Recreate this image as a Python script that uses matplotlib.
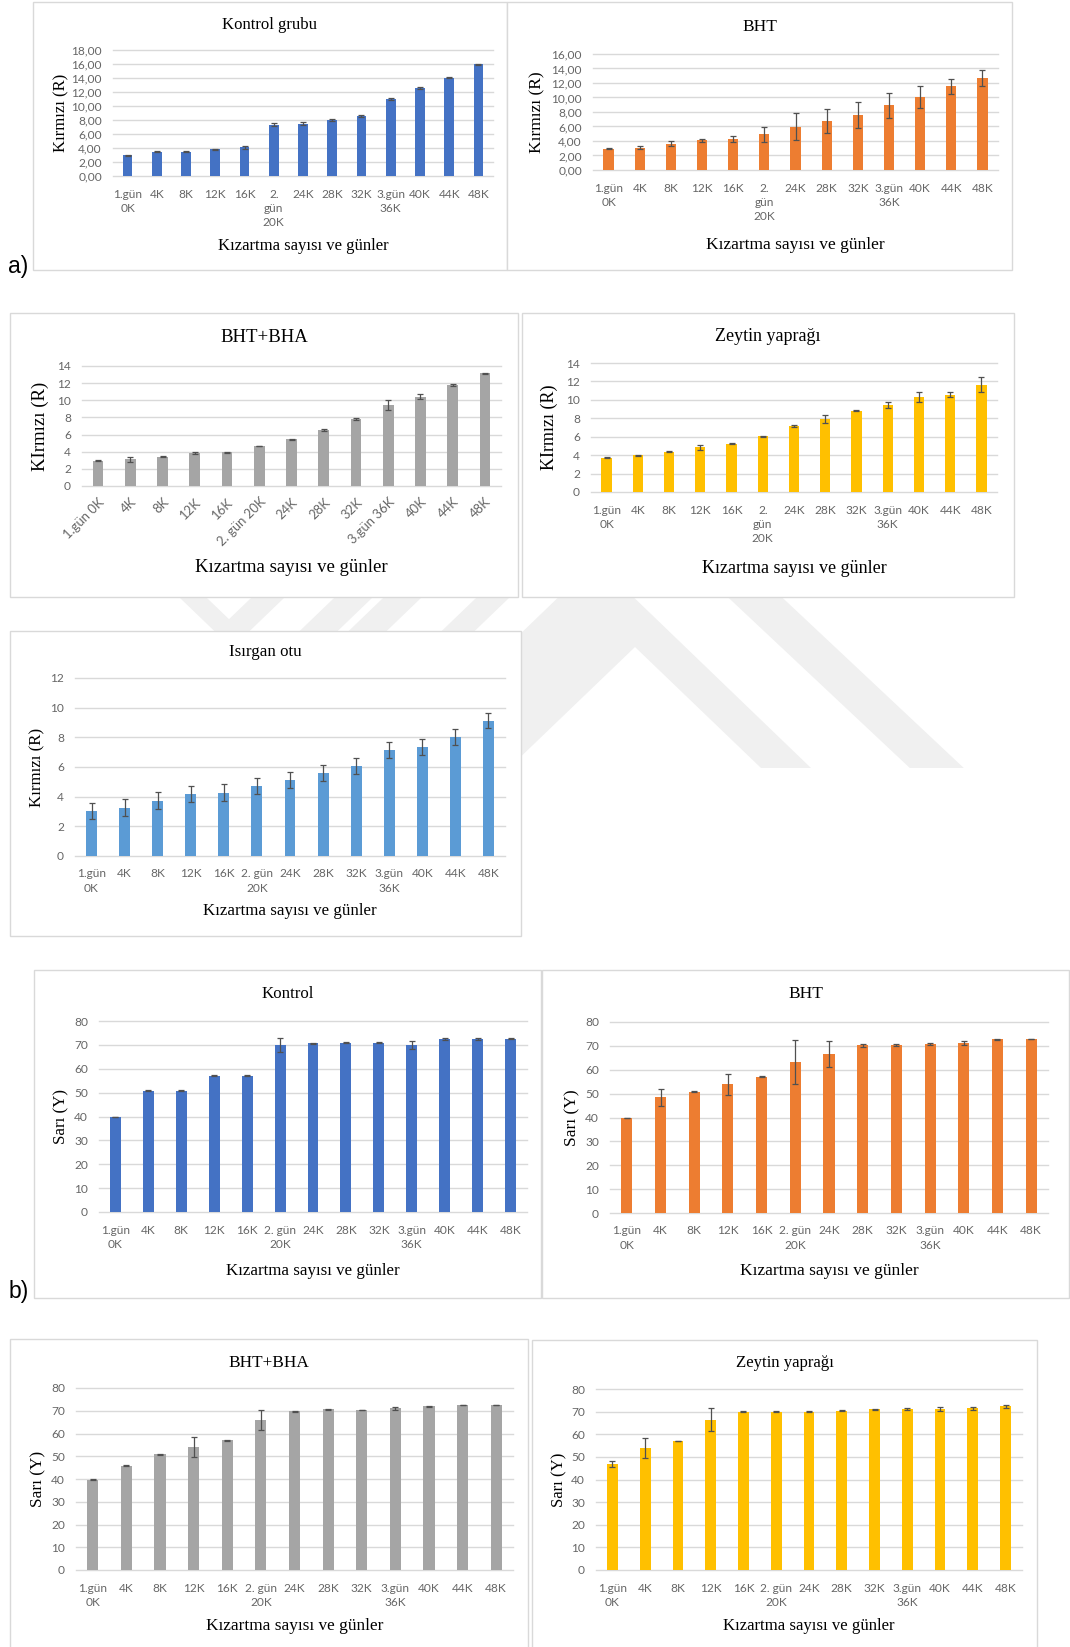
import numpy as np
import matplotlib
matplotlib.use('Agg')
import matplotlib.pyplot as plt
from matplotlib.patches import Rectangle, Polygon
from matplotlib.ticker import FuncFormatter

''' Canvas size in pixels (dpi 100) '''
W, H = 1070, 1647

''' Fonts '''
serifFont = 'Liberation Serif'
tickFont = 'Lato'
tickSize = 8.6

''' Colours '''
cBlue = '#4472C4'
cOrange = '#ED7D31'
cGray = '#A5A5A5'
cYellow = '#FFC000'
cLightBlue = '#5B9BD5'
gridColor = '#D9D9D9'
tickColor = '#666666'
errColor = '#505050'
markColor = '#F0F0F0'

''' Category labels '''
labelsWrap = ['1.gün\n0K', '4K', '8K', '12K', '16K', '2.\ngün\n20K', '24K', '28K', '32K',
              '3.gün\n36K', '40K', '44K', '48K']
labelsWide = ['1.gün\n0K', '4K', '8K', '12K', '16K', '2. gün\n20K', '24K', '28K', '32K',
              '3.gün\n36K', '40K', '44K', '48K']
labelsFlat = ['1.gün 0K', '4K', '8K', '12K', '16K', '2. gün 20K', '24K', '28K', '32K',
              '3.gün 36K', '40K', '44K', '48K']

''' Red value (R) '''
kontrolR = [2.95, 3.50, 3.50, 3.80, 4.10, 7.35, 7.50, 8.00, 8.55, 11.00, 12.60, 14.05, 15.95]
kontrolRErr = [0.10, 0.12, 0.10, 0.05, 0.20, 0.20, 0.20, 0.10, 0.10, 0.10, 0.15, 0.08, 0.05]

bhtR = [2.95, 3.10, 3.60, 4.07, 4.30, 4.90, 5.95, 6.77, 7.60, 8.90, 10.06, 11.57, 12.66]
bhtRErr = [0.03, 0.15, 0.35, 0.20, 0.40, 0.98, 1.85, 1.65, 1.75, 1.70, 1.46, 1.03, 1.10]

bhtBhaR = [2.95, 3.10, 3.42, 3.81, 3.93, 4.67, 5.45, 6.53, 7.82, 9.45, 10.42, 11.82, 13.15]
bhtBhaRErr = [0.03, 0.25, 0.03, 0.10, 0.03, 0.03, 0.03, 0.15, 0.10, 0.60, 0.27, 0.10, 0.05]

zeytinR = [3.73, 3.98, 4.38, 4.85, 5.25, 6.04, 7.13, 7.92, 8.83, 9.44, 10.31, 10.56, 11.65]
zeytinRErr = [0.08, 0.03, 0.05, 0.30, 0.03, 0.02, 0.10, 0.45, 0.08, 0.35, 0.50, 0.30, 0.80]

isirganR = [3.03, 3.25, 3.72, 4.17, 4.26, 4.73, 5.14, 5.59, 6.06, 7.16, 7.33, 8.03, 9.13]
isirganRErr = [0.54, 0.56, 0.57, 0.52, 0.57, 0.52, 0.53, 0.56, 0.56, 0.55, 0.54, 0.54, 0.52]

''' Yellow value (Y) '''
kontrolY = [39.8, 50.8, 50.8, 57.0, 57.0, 69.8, 70.65, 70.8, 70.8, 70.1, 72.45, 72.45, 72.6]
kontrolYErr = [0.2, 0.2, 0.2, 0.2, 0.2, 2.9, 0.2, 0.2, 0.2, 1.7, 0.3, 0.3, 0.2]

bhtY = [39.8, 48.45, 50.8, 53.9, 57.1, 63.4, 66.45, 70.2, 70.4, 70.8, 71.35, 72.7, 72.9]
bhtYErr = [0.1, 3.6, 0.1, 4.3, 0.3, 9.2, 5.4, 0.5, 0.5, 0.5, 0.8, 0.2, 0.1]

bhtBhaY = [39.7, 45.9, 50.8, 53.9, 57.0, 65.8, 69.7, 70.6, 70.3, 71.05, 71.9, 72.5, 72.5]
bhtBhaYErr = [0.1, 0.1, 0.1, 4.4, 0.1, 4.4, 0.1, 0.3, 0.1, 0.7, 0.4, 0.1, 0.1]

zeytinY = [46.85, 53.8, 57.0, 66.45, 70.0, 70.0, 70.0, 70.4, 71.0, 71.2, 71.3, 71.45, 72.3]
zeytinYErr = [1.5, 4.4, 0.1, 5.0, 0.1, 0.1, 0.1, 0.2, 0.3, 0.5, 0.9, 0.7, 0.8]

xTitle = 'Kızartma sayısı ve günler'


def px2fig(x, y):
    return x / W, 1 - y / H


def addBand(fig, pts):
    poly = Polygon([px2fig(x, y) for x, y in pts], closed=True, transform=fig.transFigure,
                   facecolor=markColor, edgecolor='none', zorder=-3)
    fig.add_artist(poly)


def slantBand(fig, xTop0, xTop1, yTop, yBot, slope):
    # slope = dx per dy (positive leans right going down)
    d = yBot - yTop
    addBand(fig, [(xTop0, yTop), (xTop1, yTop), (xTop1 + slope * d, yBot), (xTop0 + slope * d, yBot)])


def addPanel(fig, frame, plot, values, errors, color, labels, ymax, ystep, title, ylabel,
             titleY, xlabelY, ylabelX, fontSize, decimals=False, rotate=False, ypad=8):
    x0, y0, x1, y1 = frame
    fig.add_artist(Rectangle(px2fig(x0, y1), (x1 - x0) / W, (y1 - y0) / H, transform=fig.transFigure,
                             facecolor='white', edgecolor=gridColor, lw=1.0, zorder=-1))

    l, t, r, b = plot
    ax = fig.add_axes([l / W, 1 - b / H, (r - l) / W, (b - t) / H])
    ax.set_facecolor('none')
    xs = np.arange(len(values))
    ax.bar(xs, values, width=0.33, color=color, zorder=2)
    ax.errorbar(xs, values, yerr=errors, fmt='none', ecolor=errColor, elinewidth=0.9,
                capsize=2.4, capthick=0.9, zorder=3)

    ax.set_xlim(-0.5, len(values) - 0.5)
    ax.set_ylim(0, ymax)
    ax.set_yticks(np.arange(0, ymax + ystep / 2, ystep))
    if decimals:
        ax.yaxis.set_major_formatter(FuncFormatter(lambda v, p: f'{v:.2f}'.replace('.', ',')))
    else:
        ax.yaxis.set_major_formatter(FuncFormatter(lambda v, p: f'{v:.0f}'))
    ax.grid(axis='y', color=gridColor, lw=1.0)
    ax.set_axisbelow(True)
    for line in ax.get_ygridlines():
        line.set_clip_on(False)
    for s in ax.spines.values():
        s.set_visible(False)

    ax.set_xticks(xs)
    if rotate:
        ax.set_xticklabels(labels, rotation=45, ha='right', rotation_mode='anchor')
        ax.tick_params(axis='x', pad=7)
    else:
        ax.set_xticklabels(labels, linespacing=1.35)
        ax.tick_params(axis='x', pad=9)
    ax.tick_params(axis='both', length=0, colors=tickColor, labelsize=tickSize)
    ax.tick_params(axis='y', pad=ypad)
    for lab in ax.get_yticklabels():
        lab.set_family(tickFont)
    for lab in ax.get_xticklabels():
        lab.set_family(tickFont)
        if rotate:
            lab.set_fontsize(tickSize + 0.8)

    fig.text((x0 + x1) / 2 / W, 1 - titleY / H, title, ha='center', va='baseline',
             family=serifFont, size=fontSize, color='black')
    fig.text((l + r) / 2 / W, 1 - xlabelY / H, xTitle, ha='center', va='baseline',
             family=serifFont, size=fontSize, color='black')
    fig.text(ylabelX / W, 1 - (t + b) / 2 / H, ylabel, ha='center', va='center', rotation=90,
             family=serifFont, size=fontSize, color='black')
    return ax


fig = plt.figure(figsize=(W / 100, H / 100), dpi=100)
fig.patch.set_facecolor('white')

''' Background emblem '''
addBand(fig, [(596, 561), (811, 768), (761, 768), (635, 647), (509, 768), (381, 768)])
slantBand(fig, 667, 721, 540, 768, 1.065)
for a, b in [(251, 284), (334, 372), (383, 421), (476, 509)]:
    slantBand(fig, a, b, 598, 700, -1.04)
slantBand(fig, 180, 207, 598, 640, 1.04)

''' a) red value panels '''
addPanel(fig, (33, 2, 507, 270), (113, 50, 493, 176), kontrolR, kontrolRErr, cBlue, labelsWrap,
         18, 2, 'Kontrol grubu', 'Kırmızı (R)', 29, 250, 61, 12.0, decimals=True)
addPanel(fig, (507, 2, 1012, 270), (593, 54, 998, 170), bhtR, bhtRErr, cOrange, labelsWrap,
         16, 2, 'BHT', 'Kırmızı (R)', 31, 249, 537, 12.5, decimals=True)
addPanel(fig, (10, 313, 518, 597), (82, 366, 501, 486), bhtBhaR, bhtBhaRErr, cGray, labelsFlat,
         14, 2, 'BHT+BHA', 'KIrmızı (R)', 342, 572, 40, 13.5, rotate=True)
addPanel(fig, (522, 313, 1014, 597), (591, 363, 997, 492), zeytinR, zeytinRErr, cYellow, labelsWrap,
         14, 2, 'Zeytin yaprağı', 'KIrmızı (R)', 341, 573, 549, 13.0)
addPanel(fig, (10, 631, 521, 936), (75, 678, 505, 856), isirganR, isirganRErr, cLightBlue, labelsWide,
         12, 2, 'Isırgan otu', 'Kırmızı (R)', 656, 915, 37, 12.2)

''' b) yellow value panels '''
addPanel(fig, (34, 970, 541, 1298), (99, 1021, 527, 1212), kontrolY, kontrolYErr, cBlue, labelsWide,
         80, 10, 'Kontrol', 'Sarı (Y)', 998, 1275, 61, 12.2)
addPanel(fig, (542, 970, 1069, 1298), (610, 1022, 1048, 1213), bhtY, bhtYErr, cOrange, labelsWide,
         80, 10, 'BHT', 'Sarı (Y)', 998, 1275, 572, 12.5)
addPanel(fig, (10, 1339, 528, 1650), (76, 1388, 513, 1570), bhtBhaY, bhtBhaYErr, cGray, labelsWide,
         80, 10, 'BHT+BHA', 'Sarı (Y)', 1367, 1630, 38, 12.4)
addPanel(fig, (532, 1340, 1037, 1650), (596, 1389, 1022, 1570), zeytinY, zeytinYErr, cYellow, labelsWide,
         80, 10, 'Zeytin yaprağı', 'Sarı (Y)', 1367, 1630, 559, 12.1)

fig.text(8 / W, 1 - 273 / H, 'a)', ha='left', va='baseline', family='Liberation Sans', size=16.5)
fig.text(9 / W, 1 - 1298 / H, 'b)', ha='left', va='baseline', family='Liberation Sans', size=16.5)

fig.savefig('out.png', dpi=100, facecolor='white')
